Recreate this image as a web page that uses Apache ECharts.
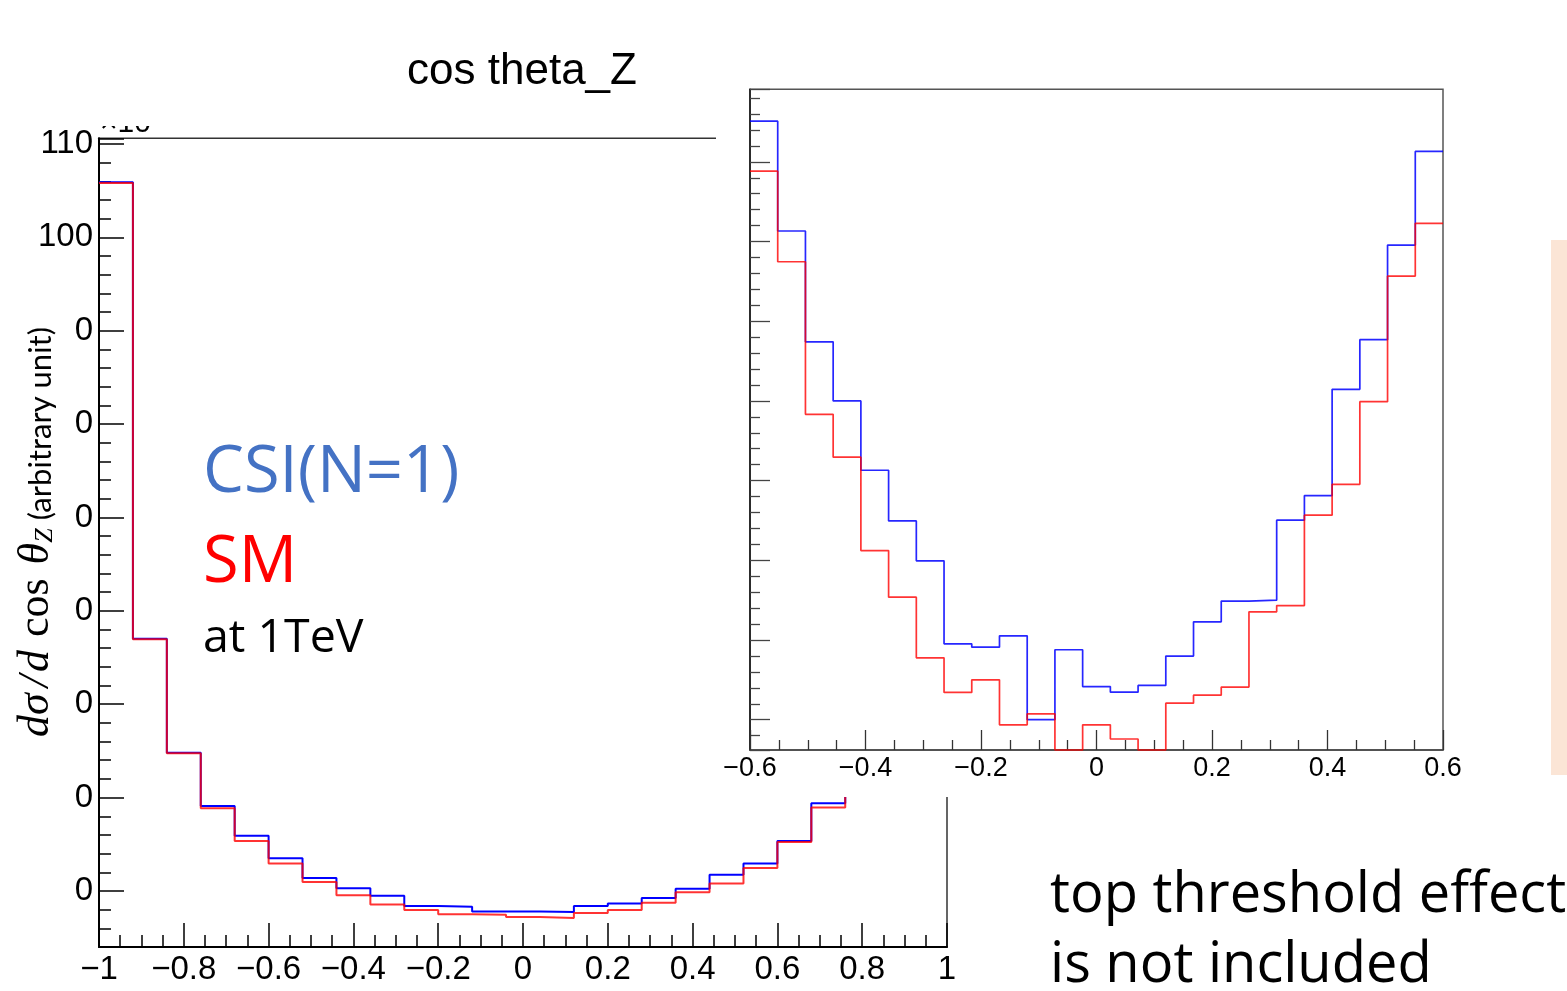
<!DOCTYPE html>
<html><head><meta charset="utf-8">
<script src="https://cdn.jsdelivr.net/npm/echarts@6/dist/echarts.min.js"></script>
<style>html,body{margin:0;padding:0;background:#fff;overflow:hidden}#chart{width:1567px;height:991px}</style>
</head><body><div id="chart"></div>
<script>
// ---------- data ----------
const mainBinEdges = [-1, -0.92, -0.84, -0.76, -0.68, -0.60, -0.52, -0.44, -0.36, -0.28, -0.20, -0.12, -0.04,
  0.04, 0.12, 0.20, 0.28, 0.36, 0.44, 0.52, 0.60, 0.68, 0.76, 0.84, 0.92, 1.00];
// last three bins are hidden behind the inset (estimated)
const mainCSI = [105.9, 57.0, 44.8, 39.1, 35.9, 33.5, 31.4, 30.3, 29.5, 28.4, 28.3, 27.8, 27.8,
  27.75, 28.4, 28.65, 29.25, 30.25, 31.75, 32.95, 35.35, 39.4, 45.5, 57.5, 105.0];
const mainSM = [105.8, 56.95, 44.75, 38.85, 35.35, 32.95, 30.95, 29.55, 28.55, 27.95, 27.5, 27.45, 27.2,
  27.1, 27.65, 27.95, 28.75, 29.85, 30.8, 32.45, 35.25, 38.95, 44.5, 56.5, 102.0];
const mainYTickValues = [30, 40, 50, 60, 70, 80, 90, 100, 110];
const mainYTickLabels = ['0', '0', '0', '0', '0', '0', '0', '100', '110'];

const insetBinEdges = [-0.6, -0.552, -0.504, -0.456, -0.408, -0.36, -0.312, -0.264, -0.216, -0.168, -0.12, -0.072, -0.024,
  0.024, 0.072, 0.12, 0.168, 0.216, 0.264, 0.312, 0.36, 0.408, 0.456, 0.504, 0.552, 0.6];
const insetCSI = [20.255, 19.566, 18.871, 18.5, 18.065, 17.747, 17.497, 16.976, 16.955, 17.026, 16.5, 16.939, 16.708,
  16.673, 16.715, 16.899, 17.114, 17.244, 17.25, 17.752, 17.906, 18.573, 18.884, 19.478, 20.065];
const insetSM = [19.942, 19.373, 18.416, 18.147, 17.561, 17.269, 16.888, 16.671, 16.75, 16.468, 16.537, 16.31, 16.468,
  16.379, 16.31, 16.604, 16.654, 16.705, 17.177, 17.216, 17.783, 17.977, 18.495, 19.283, 19.614];

const titleText = 'cos theta_Z';
const legendCSI = 'CSI(N=1)';
const legendSM = 'SM';
const legendEnergy = 'at 1TeV';
const noteLines = ['top threshold effect', 'is not included'];

// ---------- helpers ----------
function stepData(edges, vals) {
  const d = vals.map((v, i) => [edges[i], v]);
  d.push([edges[edges.length - 1], vals[vals.length - 1]]);
  return d;
}
function xFmt(v) {
  const r = Math.round(v * 10) / 10;
  if (r === 0) return '0';
  return (r < 0 ? '\u2212' : '') + String(Math.abs(r));
}
const SANS = 'Liberation Sans';
const SLIDE = 'Open Sans';
function txt(x, y, text, size, family, fill, align) {
  return {type: 'text', z: 6, silent: true, x: x, y: y,
    style: {text: text, fontSize: size, fontFamily: family, fill: fill, align: align || 'left', verticalAlign: 'middle',
      textAlign: align || 'left', textVerticalAlign: 'middle'}};
}
const SERIF = 'Liberation Serif';

const chart = echarts.init(document.getElementById('chart'), null, {renderer: 'canvas'});
chart.setOption({
  animation: false,
  backgroundColor: '#ffffff',
  grid: [
    {left: 99, top: 138.3, width: 848, height: 808.7, show: true, borderColor: '#333', borderWidth: 1.5,
      backgroundColor: 'rgba(0,0,0,0)', z: 0},
    {left: 750, top: 89.3, width: 693, height: 660.7, show: true, borderColor: '#555', borderWidth: 1.5,
      backgroundColor: 'rgba(0,0,0,0)', z: 10}
  ],
  xAxis: [
    {gridIndex: 0, type: 'value', min: -1, max: 1, interval: 0.2,
      axisLine: {onZero: false, lineStyle: {color: '#000', width: 2}},
      axisTick: {inside: true, length: 24, lineStyle: {color: '#000', width: 1.5}},
      minorTick: {show: true, splitNumber: 4, length: 12, lineStyle: {color: '#000', width: 1.5}},
      splitLine: {show: false}, minorSplitLine: {show: false},
      axisLabel: {fontSize: 33, fontFamily: SANS, color: '#000', margin: 6, formatter: xFmt}},
    {gridIndex: 1, type: 'value', min: -0.6, max: 0.6, interval: 0.2, z: 11,
      axisLine: {onZero: false, lineStyle: {color: '#444', width: 1.5}},
      axisTick: {inside: true, length: 20, lineStyle: {color: '#333', width: 1.3}},
      minorTick: {show: true, splitNumber: 4, length: 10, lineStyle: {color: '#333', width: 1.3}},
      splitLine: {show: false}, minorSplitLine: {show: false},
      axisLabel: {fontSize: 27, fontFamily: SANS, color: '#000', margin: 5, formatter: xFmt}}
  ],
  yAxis: [
    {gridIndex: 0, type: 'value', min: 24, max: 110.6, splitNumber: 9,
      axisLine: {onZero: false, lineStyle: {color: '#000', width: 2}},
      axisTick: {inside: true, length: 25, lineStyle: {color: '#000', width: 1.5}},
      minorTick: {show: true, splitNumber: 5, length: 12, lineStyle: {color: '#000', width: 1.5}},
      splitLine: {show: false}, minorSplitLine: {show: false},
      axisLabel: {fontSize: 33, fontFamily: SANS, color: '#000', margin: 6, showMinLabel: false, showMaxLabel: false,
        formatter: v => { const i = mainYTickValues.findIndex(t => Math.abs(t - v) < 1e-6); return i >= 0 ? mainYTickLabels[i] : ''; }}},
    {gridIndex: 1, type: 'value', min: 16.31, max: 20.455, splitNumber: 8, z: 11,
      axisLine: {onZero: false, lineStyle: {color: '#111', width: 1.5}},
      axisTick: {inside: true, length: 20, lineStyle: {color: '#444', width: 1.3}},
      minorTick: {show: true, splitNumber: 5, length: 10, lineStyle: {color: '#444', width: 1.3}},
      splitLine: {show: false}, minorSplitLine: {show: false},
      axisLabel: {show: false}}
  ],
  series: [
    {type: 'line', xAxisIndex: 0, yAxisIndex: 0, step: 'end', symbol: 'none', silent: true, z: 2,
      lineStyle: {color: '#0000ff', width: 2}, data: stepData(mainBinEdges, mainCSI)},
    {type: 'line', xAxisIndex: 0, yAxisIndex: 0, step: 'end', symbol: 'none', silent: true, z: 3,
      lineStyle: {color: 'rgba(255,0,0,0.8)', width: 2}, data: stepData(mainBinEdges, mainSM)},
    {type: 'line', xAxisIndex: 1, yAxisIndex: 1, step: 'end', symbol: 'none', silent: true, z: 12, clip: false,
      lineStyle: {color: 'rgba(0,0,255,0.85)', width: 1.7}, data: stepData(insetBinEdges, insetCSI)},
    {type: 'line', xAxisIndex: 1, yAxisIndex: 1, step: 'end', symbol: 'none', silent: true, z: 13, clip: false,
      lineStyle: {color: 'rgba(255,0,0,0.8)', width: 1.7}, data: stepData(insetBinEdges, insetSM)}
  ],
  graphic: {elements: [
    // white area of the inset pad hiding the main plot behind it
    {type: 'rect', z: 5, silent: true, shape: {x: 716, y: 0, width: 760, height: 797}, style: {fill: '#fff'}},
    // exponent label partly hidden by the title box
    {type: 'text', z: 1, silent: true, x: 100, y: 123.7,
      style: {text: '\u00d710\u00b3', fontSize: 30, fontFamily: SANS, fill: '#000', align: 'left', verticalAlign: 'middle',
        textAlign: 'left', textVerticalAlign: 'middle'}},
    {type: 'rect', z: 2, silent: true, shape: {x: 95, y: 80, width: 80, height: 46}, style: {fill: '#fff'}},
    // title
    txt(522, 71.4, titleText, 44, SANS, '#000', 'center'),
    // y-axis title
    {type: 'text', z: 6, silent: true, x: 36, y: 532, rotation: Math.PI / 2,
      style: {text: '{m|d\u03c3}{g6| }{m|/}{g3| }{m|d}{g13| }{r|cos}{g14| }{m|\u03b8}{s|Z}{g8| }{t|(arbitrary unit)}',
        align: 'center', verticalAlign: 'middle', textAlign: 'center', textVerticalAlign: 'middle',
        rich: {
          m: {fontSize: 44, fontFamily: SERIF, fontStyle: 'italic', fill: '#000', color: '#000', verticalAlign: 'bottom'},
          r: {fontSize: 44, fontFamily: SERIF, fill: '#000', color: '#000', verticalAlign: 'bottom'},
          s: {fontSize: 26, fontFamily: SERIF, fontStyle: 'italic', fill: '#000', color: '#000', verticalAlign: 'bottom'},
          t: {fontSize: 31, fontFamily: 'Lato', fill: '#000', color: '#000', verticalAlign: 'bottom', padding: [0, 0, 2, 0]},
          g3: {fontSize: 10, width: 3}, g6: {fontSize: 10, width: 6}, g8: {fontSize: 10, width: 8},
          g13: {fontSize: 10, width: 13}, g14: {fontSize: 10, width: 14}
        }}},
    // slide annotations
    txt(203, 473.7, legendCSI, 65, SLIDE, '#4472C4'),
    txt(203, 563.7, legendSM, 65, SLIDE, '#FF0000'),
    txt(203, 638.6, legendEnergy, 46.5, SLIDE, '#000'),
    txt(1050, 896, noteLines[0], 56, SLIDE, '#000'),
    txt(1050, 966, noteLines[1], 56, SLIDE, '#000'),
    // peach side bar
    {type: 'rect', z: 6, silent: true, shape: {x: 1551, y: 240, width: 20, height: 535}, style: {fill: '#FBE5D6'}}
  ]}
});
</script></body></html>
